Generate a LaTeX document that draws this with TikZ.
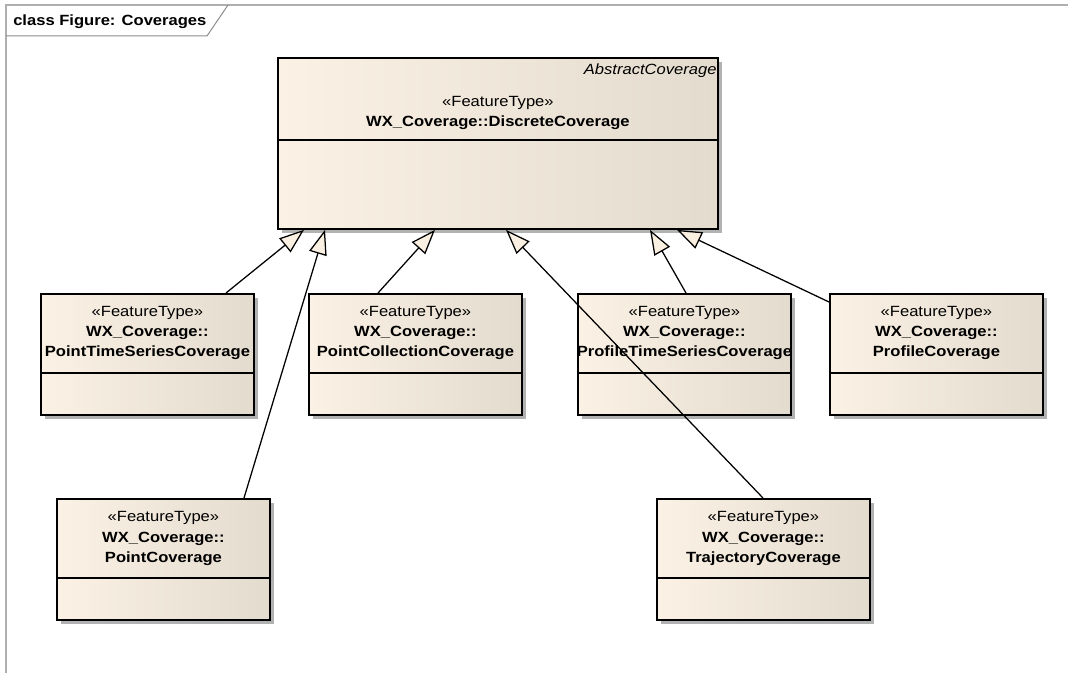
\documentclass[tikz,border=0pt]{standalone}
\usepackage{fontspec}
\setmainfont{Liberation Sans}[FakeStretch=1.12]
\usetikzlibrary{arrows.meta,calc,shadows}

% one screen pixel
\newlength\pxl
\setlength\pxl{0.75pt}

\definecolor{boxleft}{RGB}{251,242,229}
\definecolor{boxright}{RGB}{227,219,205}
\definecolor{tipfill}{RGB}{250,240,226}
\definecolor{shadowgray}{RGB}{178,178,178}
\definecolor{framegray}{RGB}{175,175,175}
\definecolor{tabgray}{RGB}{140,140,140}

\tikzset{
  classbox/.style={draw=black, line width=1.4pt, left color=boxleft, right color=boxright,
    anchor=north west, inner sep=0pt, minimum width=213\pxl, minimum height=121\pxl,
    general shadow={fill=shadowgray, shadow xshift=4\pxl, shadow yshift=-4\pxl}},
  divider/.style={draw=black, line width=1.3pt},
  txt/.style={inner sep=0pt, anchor=base, font=\fontsize{11.1}{13}\selectfont},
  boldtxt/.style={txt, font=\fontsize{11.1}{13}\selectfont\bfseries},
  gen/.style={draw=black, line width=0.95pt,
    -{Triangle[length=18.5pt, width=13.5pt, fill=tipfill, line width=0.95pt]}}
}

% a <<FeatureType>> class: name, left, top, package line, class name
\newcommand\umlclass[5]{%
  \node[classbox] (#1) at (#2,#3) {};
  \draw[divider] ($(#1.north west)+(0,80)$) -- ($(#1.north east)+(0,80)$);
  \node[txt] (#1-st) at ($(#1.north)+(0,24)$) {«FeatureType»};
  \node[boldtxt] (#1-pk) at ($(#1.north)+(0,44)$) {#4};
  \node[boldtxt] (#1-nm) at ($(#1.north)+(0,64)$) {#5};
}

\begin{document}
\begin{tikzpicture}[x=0.75pt, y=-0.75pt]
\useasboundingbox (0,0) rectangle (1068,673);

% diagram frame and its name tab
\draw[framegray, line width=1.1pt] (1068,5) -- (6,5) -- (6,673);
\draw[tabgray, line width=0.75pt] (6,36) -- (207,36) -- (228,5);
\node[boldtxt, anchor=base west] (title) at (13,26) {class Figure: Coverages};

% abstract parent class
\node[classbox, minimum width=440\pxl, minimum height=171\pxl] (abs) at (277,57) {};
\draw[divider] ($(abs.north west)+(0,83)$) -- ($(abs.north east)+(0,83)$);
\node[txt, anchor=base east, font=\fontsize{11.1}{13}\selectfont\itshape] (abs-ab)
  at ($(abs.north east)+(-2,18)$) {AbstractCoverage};
\node[txt] (abs-st) at ($(abs.north)+(0,50)$) {«FeatureType»};
\node[boldtxt] (abs-nm) at ($(abs.north)+(0,70)$) {WX\_Coverage::DiscreteCoverage};

% specialised coverages
\umlclass{pts}{40}{293}{WX\_Coverage::}{PointTimeSeriesCoverage}
\umlclass{pcol}{308}{293}{WX\_Coverage::}{PointCollectionCoverage}
\umlclass{ptsc}{577}{293}{WX\_Coverage::}{ProfileTimeSeriesCoverage}
\umlclass{prof}{829}{293}{WX\_Coverage::}{ProfileCoverage}
\umlclass{pcov}{56}{498}{WX\_Coverage::}{PointCoverage}
\umlclass{traj}{656}{498}{WX\_Coverage::}{TrajectoryCoverage}

% generalisations
\draw[gen] ($(pts.north west)+(186,0)$) -- ($(abs.south west)+(27,0)$);
\draw[gen] ($(pcov.north west)+(188,0)$) -- ($(abs.south west)+(48,0)$);
\draw[gen] ($(pcol.north west)+(70,0)$) -- ($(abs.south west)+(158,0)$);
\draw[gen] ($(traj.north west)+(107,0)$) -- ($(abs.south west)+(229,0)$);
\draw[gen] ($(ptsc.north west)+(109,0)$) -- ($(abs.south west)+(373,0)$);
\draw[gen] ($(prof.north west)+(0,9)$) -- ($(abs.south west)+(400,0)$);
\end{tikzpicture}
\end{document}
